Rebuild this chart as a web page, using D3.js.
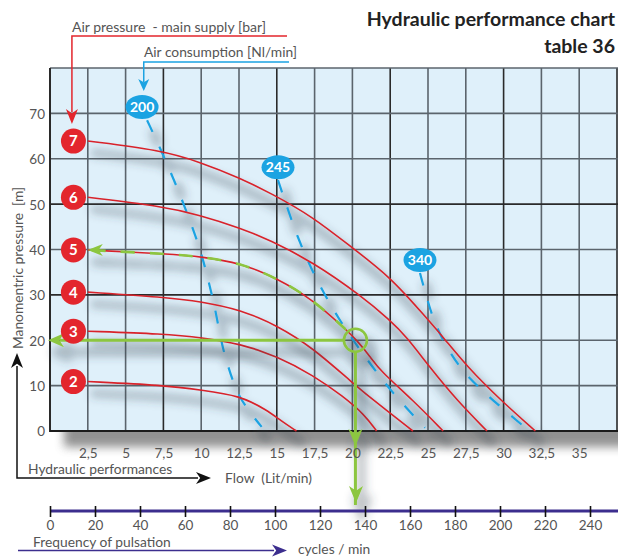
<!DOCTYPE html>
<html><head><meta charset="utf-8">
<script src="https://cdn.jsdelivr.net/npm/d3@7"></script>
<style>
body{margin:0;background:#fff}
svg{display:block}
text{font-family:Lato,"Open Sans",sans-serif;white-space:pre}
</style></head>
<body><svg id="c" width="618" height="560"></svg>
<script>
// ---------- DATA ----------
const flowTicks = [2.5,5,7.5,10,12.5,15,17.5,20,22.5,25,27.5,30,32.5,35];
const flowTickLabels = ["2,5","5","7,5","10","12,5","15","17,5","20","22,5","25","27,5","30","32,5","35"];
const pressureTicks = [0,10,20,30,40,50,60,70];
const cycleTicks = [0,20,40,60,80,100,120,140,160,180,200,220,240];

const airPressureLevels = [7,6,5,4,3,2];           // bar
const curveBar7 = [[2.5,63.9],[7.3,61.9],[9.9,59.3],[12.6,55.7],[14.55,52.5],[17.4,47.2],[20,40.3],[22.5,34.0],[24.9,24.9],[26.0,20.7],[27.6,14.1],[29.8,6.8],[32.1,0]];
const curveBar6 = [[2.5,51.5],[7.3,49.6],[9.9,47.6],[12.6,44.7],[14.55,42.1],[17.4,37.2],[20.5,30.0],[22.5,24.4],[23.6,20.7],[25.1,14.1],[26.9,6.8],[28.9,0]];
const curveBar5 = [[2.5,39.9],[7.9,39.0],[10.05,38.4],[12.6,37.0],[15.0,33.7],[17.4,28.9],[19.4,22.9],[20.3,20.0],[21.2,16.3],[21.8,13.4],[24.0,6.8],[26.0,0]];
const curveBar4 = [[2.5,30.6],[7.5,29.5],[10.05,28.5],[12.6,26.7],[15.0,23.3],[17.4,18.3],[20.0,10.6],[21.8,5.7],[24.0,0]];
const curveBar3 = [[2.5,22.0],[7.5,21.4],[10.05,20.6],[12.6,19.2],[15.0,16.5],[17.4,12.3],[19.4,7.6],[20.8,3.6],[21.6,0]];
const curveBar2 = [[2.5,10.9],[7.47,10.1],[10.05,9.0],[12.57,7.8],[14.35,4.6],[15.3,2.2],[16.3,0]];
const pumpCurves = [curveBar7,curveBar6,curveBar5,curveBar4,curveBar3,curveBar2];

const airConsumptionLabels = [200,245,340];        // Nl/min
const air200 = [[6.42,68.5],[7.28,62.3],[8.6,52.0],[9.92,39.9],[10.78,28.9],[11.57,16.7],[12.57,7.5],[14.0,0.9]];
const air245 = [[15.08,55.3],[16.4,42.7],[17.6,33.7],[19.18,24.4],[20.9,16.1],[22.7,8.4],[24.8,0.7]];
const air340 = [[24.47,34.8],[25.33,25.1],[26.19,18.9],[27.3,13.4],[28.7,8.6],[30.2,4.2],[31.7,0]];
const airCurves = [air200,air245,air340];
const airLabelAnchor = [[6.09,71.4],[15.08,58.1],[24.47,37.7]];

const opFlow = 20.2, opPressure = 20, opCycles = 136;

// ---------- SETUP ----------
const W=618,H=560;
const svg=d3.select('#c');
const x=d3.scaleLinear().domain([0,37.5]).range([50,617]);
const y=d3.scaleLinear().domain([0,80]).range([431,68]);
const xc=d3.scaleLinear().domain([0,240]).range([50,590]);

const RED='#e3262d', CURVE='#d8232b', BLUE='#1ba3e2', GREEN='#8cc63f', PURPLE='#3c2e8e';

const defs=svg.append('defs');
const f=defs.append('filter').attr('id','sh').attr('filterUnits','userSpaceOnUse').attr('x',0).attr('y',0).attr('width',W).attr('height',H);
f.append('feMorphology').attr('in','SourceAlpha').attr('operator','dilate').attr('radius',2.5).attr('result','d');
f.append('feGaussianBlur').attr('in','d').attr('stdDeviation',4.5).attr('result','b');
f.append('feOffset').attr('in','b').attr('dx',6).attr('dy',12).attr('result','o');
f.append('feFlood').attr('flood-color','#36424e').attr('flood-opacity',0.3).attr('result','c');
f.append('feComposite').attr('in','c').attr('in2','o').attr('operator','in').attr('result','s');
const mg=f.append('feMerge'); mg.append('feMergeNode').attr('in','s'); mg.append('feMergeNode').attr('in','SourceGraphic');
defs.append('filter').attr('id','blur').attr('x','-10%').attr('y','-10%').attr('width','120%').attr('height','130%')
  .append('feGaussianBlur').attr('stdDeviation',5);
defs.append('clipPath').attr('id','greenClip').append('rect')
  .attr('x',x(0)).attr('y',y(80)).attr('width',x(19.6)-x(0)).attr('height',y(0)-y(80));

function arrowHead(g,tx,ty,dir,len,half,color){
  let p;
  const n=len*0.72;
  if(dir==='down') p=`M${tx},${ty}L${tx-half},${ty-len}L${tx},${ty-n}L${tx+half},${ty-len}Z`;
  if(dir==='up') p=`M${tx},${ty}L${tx-half},${ty+len}L${tx},${ty+n}L${tx+half},${ty+len}Z`;
  if(dir==='left') p=`M${tx},${ty}L${tx+len},${ty-half}L${tx+n},${ty}L${tx+len},${ty+half}Z`;
  if(dir==='right') p=`M${tx},${ty}L${tx-len},${ty-half}L${tx-n},${ty}L${tx-len},${ty+half}Z`;
  g.append('path').attr('d',p).attr('fill',color);
}

// ---------- PANEL ----------
svg.append('rect').attr('x',x(0)+14).attr('y',y(80)+10).attr('width',x(37.5)-x(0)).attr('height',y(0)-y(80)+6)
  .attr('fill','#6d6d6d').attr('opacity',0.75).attr('filter','url(#blur)');
svg.append('rect').attr('x',x(0)).attr('y',y(80)).attr('width',x(37.5)-x(0)+2).attr('height',y(0)-y(80))
  .attr('fill','#dff0fa');

const grid=svg.append('g');
grid.selectAll('.vg').data(flowTicks.concat([37.5])).join('line')
  .attr('x1',d=>x(d)).attr('x2',d=>x(d)).attr('y1',y(80)).attr('y2',y(0))
  .attr('stroke',(d,i)=>i%3===2?'#2a2a2a':'#5b646c').attr('stroke-width',1.6);
grid.selectAll('.hg').data(pressureTicks.slice(1).concat([80])).join('line')
  .attr('x1',x(0)).attr('x2',x(37.5)+2).attr('y1',d=>y(d)).attr('y2',d=>y(d))
  .attr('stroke',d=>d===50||d===30?'#2a2a2a':'#5b646c').attr('stroke-width',1.6);
grid.append('line').attr('x1',x(0)).attr('x2',x(0)).attr('y1',y(80)).attr('y2',y(0)+1).attr('stroke','#2a2a2a').attr('stroke-width',2);
grid.append('line').attr('x1',x(0)).attr('x2',x(37.5)+2).attr('y1',y(0)).attr('y2',y(0)).attr('stroke','#1a1a1a').attr('stroke-width',2);

// ---------- CURVES ----------
const plot=svg.append('g').attr('filter','url(#sh)');
const lineGen=d3.line().x(d=>x(d[0])).y(d=>y(d[1])).curve(d3.curveBasis);
const dashGen=d3.line().x(d=>x(d[0])).y(d=>y(d[1])).curve(d3.curveCatmullRom.alpha(0.5));

plot.selectAll('.air').data(airCurves).join('path')
  .attr('d',dashGen).attr('fill','none').attr('stroke',BLUE).attr('stroke-width',2.2)
  .attr('stroke-dasharray','13,16');

plot.selectAll('.pc').data(pumpCurves).join('path')
  .attr('d',lineGen).attr('fill','none').attr('stroke',CURVE).attr('stroke-width',1.6);

// green highlight along 5 bar curve
plot.append('path').attr('d',lineGen(curveBar5)).attr('fill','none').attr('stroke',GREEN)
  .attr('stroke-width',2.6).attr('stroke-dasharray','14,15').attr('stroke-dashoffset',-4).attr('clip-path','url(#greenClip)');

// green operating point
const green=svg.append('g').attr('filter','url(#sh)');
green.append('line').attr('x1',x(0)+10).attr('x2',x(opFlow)-12).attr('y1',y(opPressure)).attr('y2',y(opPressure))
  .attr('stroke',GREEN).attr('stroke-width',3);
arrowHead(green,x(0)-2,y(opPressure),'left',16,7,GREEN);
green.append('circle').attr('cx',x(opFlow)).attr('cy',y(opPressure)).attr('r',11.5)
  .attr('fill','none').attr('stroke',GREEN).attr('stroke-width',2.6);
green.append('line').attr('x1',x(opFlow)).attr('x2',x(opFlow)).attr('y1',y(opPressure)+12).attr('y2',505)
  .attr('stroke',GREEN).attr('stroke-width',3);
arrowHead(green,x(opFlow),y(0)+15,'down',17,7,GREEN);
arrowHead(green,xc(opCycles),503,'down',17,7,GREEN);
arrowHead(svg,x(curveBar5[0][0]),y(curveBar5[0][1]),'left',15,6,GREEN);

// red pressure markers
const mk=svg.append('g');
pumpCurves.forEach((c,i)=>{
  const cx=x(1.55), cy=y(c[0][1]);
  mk.append('circle').attr('cx',cx).attr('cy',cy).attr('r',12.5).attr('fill',RED);
  mk.append('text').attr('x',cx).attr('y',cy).attr('dy','0.36em').attr('text-anchor','middle')
    .attr('fill','#fff').attr('font-weight','bold').attr('font-size',15).text(airPressureLevels[i]);
});

// blue consumption bubbles
airConsumptionLabels.forEach((v,i)=>{
  const [fx,fy]=airLabelAnchor[i];
  mk.append('ellipse').attr('cx',x(fx)).attr('cy',y(fy)).attr('rx',16.5).attr('ry',12).attr('fill',BLUE);
  mk.append('text').attr('x',x(fx)).attr('y',y(fy)).attr('dy','0.36em').attr('text-anchor','middle')
    .attr('fill','#fff').attr('font-weight','bold').attr('font-size',14).text(v);
});

// ---------- AXES ----------
const ax=d3.axisBottom(x).tickValues(flowTicks).tickSize(0).tickFormat((d,i)=>flowTickLabels[i]);
const gx=svg.append('g').attr('transform','translate(0,458)').call(ax);
gx.select('.domain').remove();
gx.selectAll('text').attr('y',0).attr('dy',0).attr('fill','#555').attr('font-size',13.5).attr('font-family','Lato');

const ay=d3.axisLeft(y).tickValues(pressureTicks).tickSize(0).tickPadding(0);
const gy=svg.append('g').attr('transform','translate(45,0)').call(ay);
gy.select('.domain').remove();
gy.selectAll('text').attr('dy','0.36em').attr('fill','#555').attr('font-size',13.5).attr('font-family','Lato');

const acx=d3.axisBottom(xc).tickValues(cycleTicks).tickSize(0);
const gc=svg.append('g').attr('transform','translate(0,511)').call(acx);
gc.select('.domain').remove();
gc.insert('line',':first-child').attr('x1',xc(0)).attr('x2',W).attr('y1',0).attr('y2',0).attr('stroke',PURPLE).attr('stroke-width',3);
gc.selectAll('.tick').append('line').attr('y1',-5).attr('y2',6).attr('stroke','#111').attr('stroke-width',1.6);
gc.selectAll('text').attr('y',19).attr('dy',0).attr('fill','#555').attr('font-size',13.5).attr('font-family','Lato');

// ---------- ANNOTATIONS ----------
const ann=svg.append('g');
ann.append('text').attr('x',615).attr('y',26).attr('text-anchor','end').attr('font-weight','bold')
  .attr('font-size',19.5).attr('fill','#222').text('Hydraulic performance chart');
ann.append('text').attr('x',615).attr('y',53).attr('text-anchor','end').attr('font-weight','bold')
  .attr('font-size',19.5).attr('fill','#222').text('table 36');

ann.append('text').attr('x',72).attr('y',32).attr('font-size',14).attr('fill','#555').text('Air pressure  - main supply [bar]');
ann.append('path').attr('d',`M287,36H${x(1.45)}V112`).attr('fill','none').attr('stroke',RED).attr('stroke-width',1.5);
arrowHead(ann,x(1.45),124,'down',15,6,RED);

ann.append('text').attr('x',144).attr('y',57).attr('font-size',13.8).attr('fill','#555').text('Air consumption [Nl/min]');
ann.append('path').attr('d',`M289,62H${x(6.2)}V82`).attr('fill','none').attr('stroke',BLUE).attr('stroke-width',1.5);
arrowHead(ann,x(6.2),91,'down',12,5.5,BLUE);

ann.append('text').attr('transform','translate(23,268) rotate(-90)').attr('text-anchor','middle')
  .attr('font-size',13.8).attr('fill','#555').text('Manomentric pressure  [m]');
ann.append('path').attr('d','M17,366V478H198').attr('fill','none').attr('stroke','#111').attr('stroke-width',1.5);
arrowHead(ann,17,353,'up',15,6,'#111');
arrowHead(ann,211,478,'right',15,6,'#111');
ann.append('text').attr('x',28).attr('y',474).attr('font-size',13.8).attr('fill','#555').text('Hydraulic performances');
ann.append('text').attr('x',225).attr('y',483).attr('font-size',13.8).attr('fill','#555').text('Flow  (Lit/min)');

ann.append('text').attr('x',33).attr('y',547).attr('font-size',13.8).attr('fill','#555').text('Frequency of pulsation');
ann.append('line').attr('x1',18).attr('x2',274).attr('y1',550.5).attr('y2',550.5).attr('stroke',PURPLE).attr('stroke-width',1.6);
arrowHead(ann,287,550.5,'right',15,6,PURPLE);
ann.append('text').attr('x',298).attr('y',554).attr('font-size',13.8).attr('fill','#555').text('cycles / min');
</script></body></html>
